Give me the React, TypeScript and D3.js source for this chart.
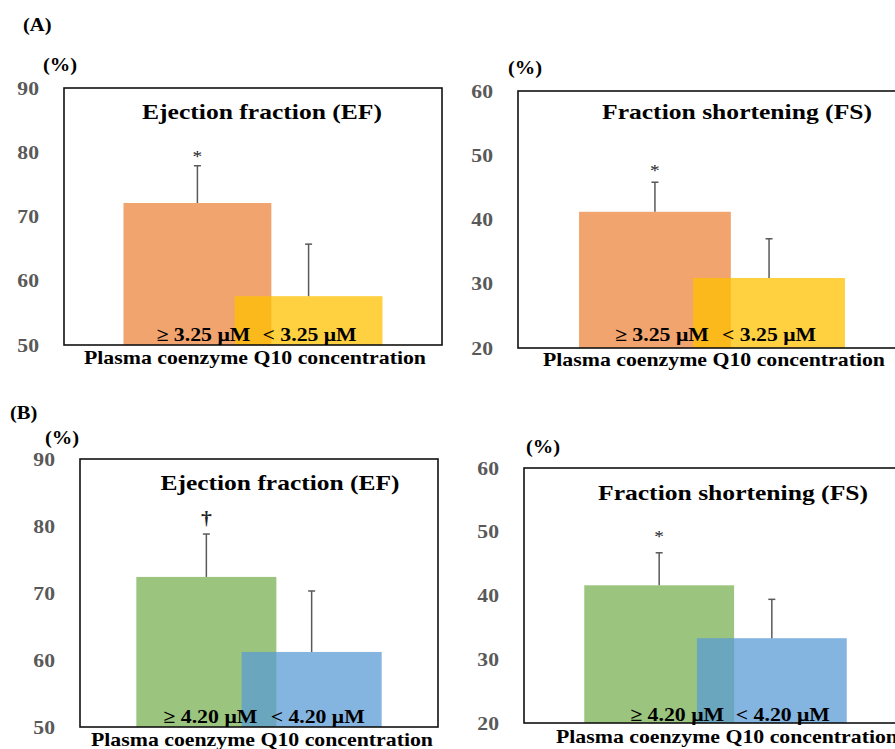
import React from "react";
import * as d3 from "d3";

// Group labels (plasma CoQ10 cut-offs)
const GROUPS_A = ["≥ 3.25 μM", "< 3.25 μM"];
const GROUPS_B = ["≥ 4.20 μM", "< 4.20 μM"];

// Axis ticks
const EF_TICKS = [50, 60, 70, 80, 90];
const FS_TICKS = [20, 30, 40, 50, 60];

// Means and SD (%)
const EF_A_MEAN = [72.1, 57.6];
const EF_A_SD = [5.8, 8.1];
const FS_A_MEAN = [41.2, 30.9];
const FS_A_SD = [4.6, 6.1];
const EF_B_MEAN = [72.4, 61.2];
const EF_B_SD = [6.4, 9.1];
const FS_B_MEAN = [41.6, 33.3];
const FS_B_SD = [5.1, 6.1];

// Significance marks above the first group
const MARK_EF_A = "*";
const MARK_FS_A = "*";
const MARK_EF_B = "†";
const MARK_FS_B = "*";

const FONT = "'Liberation Serif', 'Times New Roman', serif";
const COLORS_A = ["#ED7D31", "#FFC000"];
const COLORS_B = ["#70AD47", "#5B9BD5"];
const ALPHAS = [0.7, 0.75];
// text in this figure is set slightly wide
const WIDE = 1.14;

type TProps = {
  x: number; y: number; size: number; children: React.ReactNode;
  anchor?: "start" | "middle" | "end"; weight?: string; fill?: string; dy?: string;
};

function WText({ x, y, size, children, anchor = "start", weight = "bold", fill = "#000", dy }: TProps) {
  return (
    <text transform={`translate(${x},${y}) scale(${WIDE},1)`} dy={dy} textAnchor={anchor}
      fontFamily={FONT} fontWeight={weight} fontSize={size} fill={fill}>{children}</text>
  );
}

type PanelProps = {
  x0: number; x1: number; y0: number; y1: number;
  ticks: number[];
  groups: string[];
  means: number[];
  sds: number[];
  mark: string;
  markGap: number;
  colors: string[];
  title: string;
  titleX: number; titleDy: number; titleW: number;
  pctX: number; pctY: number;
  labelDx: number[]; labelDy: number;
  axisTitleX: number; axisTitleDy: number;
};

function Panel(p: PanelProps) {
  const y = d3.scaleLinear().domain(d3.extent(p.ticks) as [number, number]).range([p.y1, p.y0]);
  const x = d3.scalePoint<string>().domain(p.groups).range([p.x0, p.x1]).padding(1.2);
  const bw = x.step() * 1.33;
  const base = y.domain()[0];
  return (
    <g>
      {p.ticks.map((t) => (
        <WText key={t} x={p.x0 - 25} y={y(t)} dy="0.35em" anchor="end" size={19} fill="#595959">{t}</WText>
      ))}
      <WText x={p.pctX} y={p.pctY} dy="0.35em" size={18}>(%)</WText>
      {p.groups.map((g, i) => (
        <rect key={g} x={(x(g) as number) - bw / 2} y={y(p.means[i])} width={bw}
          height={y(base) - y(p.means[i])} fill={p.colors[i]} fillOpacity={ALPHAS[i]} />
      ))}
      {p.groups.map((g, i) => {
        const cx = x(g) as number;
        return (
          <g key={g} stroke="#595959" strokeWidth={1.5}>
            <line x1={cx} x2={cx} y1={y(p.means[i])} y2={y(p.means[i] + p.sds[i])} />
            <line x1={cx - 3.5} x2={cx + 3.5} y1={y(p.means[i] + p.sds[i])} y2={y(p.means[i] + p.sds[i])} />
          </g>
        );
      })}
      <WText x={x(p.groups[0]) as number} y={y(p.means[0] + p.sds[0]) - p.markGap} anchor="middle"
        size={p.mark === "†" ? 19 : 17} weight={p.mark === "†" ? "bold" : "normal"} fill="#222">{p.mark}</WText>
      <rect x={p.x0} y={p.y0} width={p.x1 - p.x0} height={p.y1 - p.y0} fill="none" stroke="#111" strokeWidth={1.6} />
      <text x={p.titleX} y={p.y0 + p.titleDy} textAnchor="middle" fontFamily={FONT} fontWeight="bold"
        fontSize={22} textLength={p.titleW} lengthAdjust="spacingAndGlyphs" fill="#000">{p.title}</text>
      {p.groups.map((g, i) => (
        <text key={g} x={(x(g) as number) + p.labelDx[i]} y={p.y1 - p.labelDy} textAnchor="middle"
          fontFamily={FONT} fontWeight="bold" fontSize={19} textLength={94} lengthAdjust="spacingAndGlyphs" fill="#000">{g}</text>
      ))}
      <text x={p.axisTitleX} y={p.y1 + p.axisTitleDy} textAnchor="middle" fontFamily={FONT} fontWeight="bold"
        fontSize={19} textLength={342} lengthAdjust="spacingAndGlyphs" fill="#000">Plasma coenzyme Q10 concentration</text>
    </g>
  );
}

export default function App() {
  return (
    <svg width={895} height={749} style={{ position: "absolute", left: 0, top: 0, background: "#fff" }}>
      <rect width={895} height={749} fill="#fff" />
      <WText x={23} y={25} dy="0.35em" size={18}>(A)</WText>
      <WText x={10} y={413} dy="0.35em" size={18}>(B)</WText>
      <Panel x0={64} x1={442} y0={88} y1={345} ticks={EF_TICKS} groups={GROUPS_A}
        means={EF_A_MEAN} sds={EF_A_SD} mark={MARK_EF_A} markGap={4} colors={COLORS_A}
        title="Ejection fraction (EF)" titleX={262} titleDy={31} titleW={240}
        pctX={43} pctY={65} labelDx={[6, 1]} labelDy={4} axisTitleX={255} axisTitleDy={19} />
      <Panel x0={518} x1={906} y0={91} y1={348} ticks={FS_TICKS} groups={GROUPS_A}
        means={FS_A_MEAN} sds={FS_A_SD} mark={MARK_FS_A} markGap={6} colors={COLORS_A}
        title="Fraction shortening (FS)" titleX={737} titleDy={28} titleW={270}
        pctX={508} pctY={68} labelDx={[7, 0]} labelDy={7} axisTitleX={714} axisTitleDy={18} />
      <Panel x0={80} x1={438} y0={459} y1={727} ticks={EF_TICKS} groups={GROUPS_B}
        means={EF_B_MEAN} sds={EF_B_SD} mark={MARK_EF_B} markGap={10} colors={COLORS_B}
        title="Ejection fraction (EF)" titleX={280} titleDy={31} titleW={239}
        pctX={45} pctY={438} labelDx={[4, 6]} labelDy={4} axisTitleX={262} axisTitleDy={19} />
      <Panel x0={524} x1={907} y0={468} y1={723} ticks={FS_TICKS} groups={GROUPS_B}
        means={FS_B_MEAN} sds={FS_B_SD} mark={MARK_FS_B} markGap={11} colors={COLORS_B}
        title="Fraction shortening (FS)" titleX={733} titleDy={32} titleW={270}
        pctX={526} pctY={447} labelDx={[18, 11]} labelDy={2} axisTitleX={727} axisTitleDy={20} />
    </svg>
  );
}
